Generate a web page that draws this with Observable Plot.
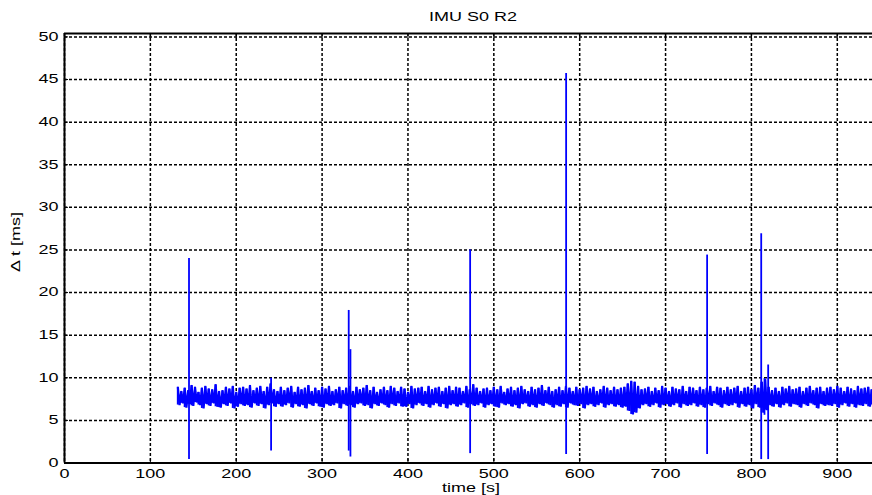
<!DOCTYPE html>
<html>
<head>
<meta charset="utf-8">
<script src="https://cdn.jsdelivr.net/npm/d3@7"></script>
<script src="https://cdn.jsdelivr.net/npm/@observablehq/plot@0.6"></script>
<style>
  body { margin: 0; background: #fff; }
  svg { display: block; }
</style>
</head>
<body>
<div id="chart"></div>
<script>
// Axis ticks and extents
const xTicks = [0, 100, 200, 300, 400, 500, 600, 700, 800, 900];
const yTicks = [0, 5, 10, 15, 20, 25, 30, 35, 40, 45, 50];
const xDomain = [0, 941];
const yDomain = [0, 50.4];

// Sample timing band: upper / lower extents of the jitter every 4 s from t = 132 s
const bandStart = 132;
const bandStep = 4;
const bandHigh = [
  8.9, 8.4, 8.8, 8.5, 9.1, 8.9, 8.3, 8.8, 9.0, 8.7,
  8.6, 9.2, 8.4, 8.5, 8.9, 8.7, 9.0, 8.3, 8.8, 8.9,
  8.7, 9.1, 8.5, 8.8, 9.0, 8.4, 8.9, 9.3, 8.6, 8.4,
  8.9, 8.5, 8.8, 9.0, 8.3, 8.9, 8.6, 8.8, 9.1, 8.4,
  8.8, 8.5, 8.9, 8.7, 9.0, 8.4, 8.6, 8.9, 8.5, 8.8,
  9.0, 8.4, 8.9, 8.6, 8.8, 9.1, 8.5, 8.9, 8.3, 8.6,
  8.9, 8.5, 9.0, 8.8, 8.4, 8.9, 8.7, 8.3, 9.0, 8.7,
  8.8, 8.9, 8.4, 9.0, 8.6, 8.8, 8.9, 8.4, 8.8, 9.0,
  8.5, 8.9, 8.8, 8.4, 9.0, 8.6, 9.2, 8.8, 8.4, 8.7,
  8.8, 8.5, 8.9, 8.6, 9.0, 8.3, 8.7, 8.9, 8.5, 8.8,
  9.0, 8.6, 8.4, 8.9, 8.6, 8.8, 9.1, 8.5, 8.9, 8.4,
  8.6, 8.9, 8.5, 9.0, 8.8, 8.4, 8.9, 8.6, 8.8, 9.0,
  8.7, 8.9, 8.4, 8.6, 9.0, 8.8, 8.5, 8.9, 8.6, 8.8,
  8.9, 9.3, 9.6, 9.5, 9.0, 8.6, 8.7, 8.9, 8.4, 8.8,
  8.5, 9.0, 8.8, 8.4, 8.9, 8.7, 8.6, 9.0, 8.4, 8.9,
  8.8, 8.5, 8.9, 8.6, 8.8, 9.0, 8.4, 8.9, 8.8, 8.5,
  8.9, 8.6, 8.8, 9.0, 8.4, 8.8, 8.9, 8.6, 9.1, 8.8,
  9.5, 9.8, 8.9, 8.5, 8.8, 8.4, 8.9, 8.7, 9.0, 8.6,
  8.7, 8.9, 8.4, 8.8, 9.0, 8.5, 8.8, 8.9, 8.4, 8.8,
  8.9, 8.6, 9.0, 8.8, 8.4, 8.9, 8.7, 8.5, 9.0, 8.7,
  8.8, 8.9, 8.6
];
const bandLow = [
  6.8, 7.0, 6.5, 6.9, 6.7, 7.1, 6.8, 6.4, 6.9, 6.7,
  7.0, 6.6, 6.5, 6.9, 6.7, 7.0, 6.4, 6.6, 6.9, 6.7,
  6.8, 6.5, 7.0, 6.7, 6.9, 6.4, 6.8, 7.0, 6.6, 6.9,
  6.6, 6.8, 7.0, 6.5, 6.9, 6.6, 6.8, 6.4, 6.9, 6.7,
  7.0, 6.6, 6.5, 6.9, 6.7, 6.8, 7.0, 6.4, 6.9, 6.7,
  6.8, 6.5, 6.9, 7.0, 6.7, 6.8, 6.4, 6.9, 6.7, 7.0,
  6.8, 6.5, 6.9, 6.7, 7.0, 6.6, 6.6, 6.9, 6.4, 6.8,
  7.0, 6.7, 6.9, 6.5, 6.8, 7.0, 6.6, 6.9, 6.4, 6.8,
  6.9, 6.6, 6.8, 7.0, 6.5, 6.9, 6.7, 6.8, 7.0, 6.5,
  6.8, 6.9, 6.6, 6.5, 7.0, 6.8, 6.9, 6.6, 6.8, 6.4,
  6.9, 7.0, 6.6, 6.8, 6.5, 6.9, 6.7, 7.0, 6.8, 6.5,
  6.8, 6.6, 6.9, 6.5, 7.0, 6.8, 6.7, 6.9, 6.4, 6.8,
  6.9, 6.6, 6.8, 7.0, 6.5, 6.8, 6.9, 6.6, 6.8, 6.5,
  6.6, 6.1, 5.7, 5.9, 6.4, 6.8, 6.9, 6.6, 6.8, 7.0,
  6.5, 6.8, 6.9, 6.6, 6.8, 7.0, 6.5, 6.9, 6.7, 6.8,
  7.0, 6.6, 6.8, 6.5, 6.9, 6.7, 7.0, 6.8, 6.5, 6.9,
  6.7, 6.8, 7.0, 6.5, 6.9, 6.6, 6.8, 6.4, 6.9, 6.5,
  5.9, 6.2, 6.8, 6.6, 6.9, 6.5, 6.8, 7.0, 6.6, 6.9,
  6.8, 6.5, 6.9, 6.7, 7.0, 6.8, 6.4, 6.9, 6.7, 6.8,
  6.7, 6.9, 6.5, 6.8, 7.0, 6.6, 6.9, 6.5, 6.8, 6.7,
  6.9, 6.6, 6.8
];

// Isolated outliers: time [s], largest and smallest Δt [ms]
const spikeTime   = [145, 240.6, 331, 333, 472.4, 584.2, 748.4, 811.4, 815.2, 819.5];
const spikeTop    = [24.0, 9.95, 17.9, 13.3, 25.0, 45.7, 24.4, 26.9, 9.9, 11.5];
const spikeBottom = [0.4, 1.4, 1.4, 0.7, 1.1, 1.0, 1.0, 0.4, 5.6, 0.4];

const band = bandHigh.flatMap((h, i) => [
  {time: bandStart + i * bandStep, dt: h},
  {time: bandStart + i * bandStep + bandStep / 2, dt: bandLow[i]}
]);
const bins = bandHigh.map((h, i) => ({time: bandStart + i * bandStep, hi: h, lo: bandLow[i]}));
const spikes = spikeTime.map((t, i) => ({time: t, top: spikeTop[i], bottom: spikeBottom[i]}));

const blue = "#0000ff";
const gridStyle = {stroke: "black", strokeOpacity: 1, strokeWidth: 1.5, strokeDasharray: "3,2"};

const plot = Plot.plot({
  width: 872,
  height: 495,
  marginLeft: 64,
  marginRight: 0,
  marginTop: 33,
  marginBottom: 32.5,
  x: {domain: xDomain, label: null},
  y: {domain: yDomain, label: null},
  style: {
    fontFamily: "'Liberation Sans', Arial, Helvetica, sans-serif",
    fontSize: "12px",
    color: "black",
    background: "white",
    overflow: "visible"
  },
  marks: [
    Plot.gridX(xTicks, gridStyle),
    Plot.gridY(yTicks, gridStyle),
    // dense jitter band: per-bin extents plus the zig-zag trace through them
    Plot.ruleX(bins, {x: "time", y1: "lo", y2: "hi", stroke: blue, strokeWidth: 2}),
    Plot.line(band, {x: "time", y: "dt", stroke: blue, strokeWidth: 2.2, strokeLinejoin: "miter", strokeLinecap: "butt"}),
    Plot.ruleX(spikes, {x: "time", y1: "bottom", y2: "top", stroke: blue, strokeWidth: 1.8}),
    Plot.ruleX([xDomain[0]], {stroke: "black", strokeWidth: 2}),
    Plot.ruleY([yDomain[0], yDomain[1]], {stroke: "black", strokeWidth: 2}),
    Plot.axisX(xTicks, {anchor: "bottom", tickSize: -4, tickPadding: 10, label: null}),
    Plot.axisX(xTicks, {anchor: "top", tickSize: -4, tickFormat: () => "", label: null}),
    Plot.axisY(yTicks, {anchor: "left", tickSize: -4, tickPadding: 10, label: null})
  ]
});

// Wide lettering: stretch every label horizontally about its anchor point
const STRETCH = 1.5;
d3.select(plot).selectAll("text").each(function () {
  const x = +(this.getAttribute("x") || 0);
  if (x) this.setAttribute("x", x / STRETCH);
  const t = this.getAttribute("transform") || "";
  this.setAttribute("transform", `${t} scale(${STRETCH},1)`);
});

const svg = d3.select(plot);
const font = "'Liberation Sans', Arial, Helvetica, sans-serif";
function addText(str, transform) {
  svg.append("text")
    .attr("transform", `${transform} scale(${STRETCH},1)`)
    .attr("text-anchor", "middle")
    .attr("font-family", font)
    .attr("font-size", 12)
    .attr("fill", "black")
    .text(str);
}
addText("IMU S0 R2", "translate(473,20.7)");
addText("time [s]", "translate(471,492)");
addText("Δ t [ms]", "translate(19.5,242) rotate(-90)");

document.getElementById("chart").appendChild(plot);
</script>
</body>
</html>
